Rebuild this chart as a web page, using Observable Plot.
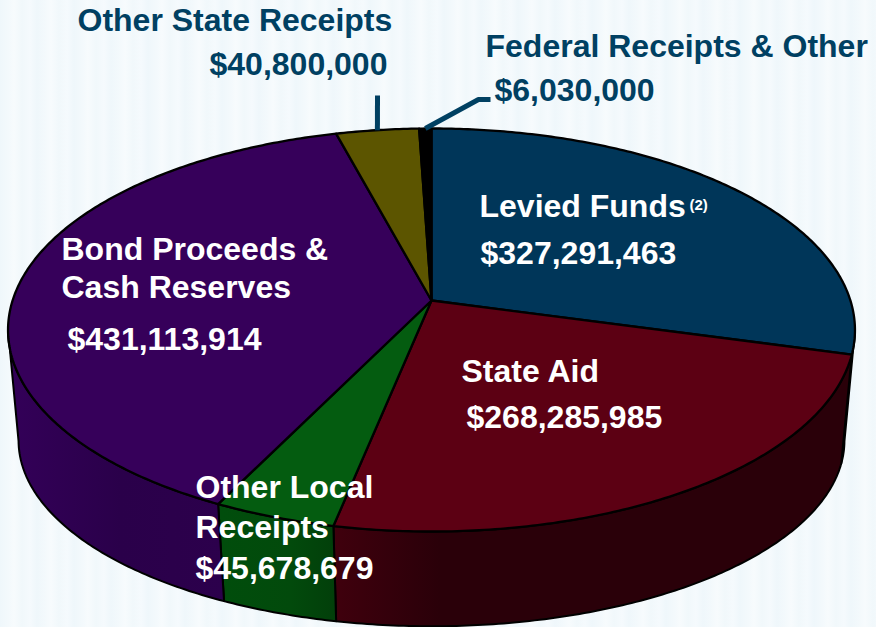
<!DOCTYPE html>
<html>
<head>
<meta charset="utf-8">
<style>
html,body{margin:0;padding:0;background:#f1f8fb;}
#chart{width:876px;height:627px;overflow:hidden;
background:repeating-linear-gradient(90deg,#eff7fb 0,#f3f9fc 8px,#f7fbfd 14px,#f1f8fb 22px,#f5fafd 30px,#eff7fb 37px);}
svg{display:block;background:transparent !important;}
</style>
<script src="https://cdn.jsdelivr.net/npm/d3@7"></script>
<script src="https://cdn.jsdelivr.net/npm/@observablehq/plot@0.6"></script>
</head>
<body>
<div id="chart"></div>
<script>
// --- Data (clockwise from the top of the pie) ---
const categories = ["Levied Funds","State Aid","Other Local Receipts","Bond Proceeds & Cash Reserves","Other State Receipts","Federal Receipts & Other"];
const amounts = [327291463,268285985,45678679,431113914,40800000,6030000];
const amountLabels = ["$327,291,463","$268,285,985","$45,678,679","$431,113,914","$40,800,000","$6,030,000"];

// --- Styles ---
const topColors = ["#003659","#5c0013","#045c10","#36005a","#5c5500","#000000"];
const wallFills = ["#00101c","url(#wallState)","url(#wallLocal)","url(#wallBond)","#333000","#000000"];
const navy = "#004062";

// --- Perspective of the pie: disc of unit radius to picture space ---
const topFace = {cx:431, cy:300, A:418.9, B:197.2, k:0.1464};
const baseFace = {cx:431, cy:413.4, A:408.7, B:182, k:0.143};
const project = (f, t) => {
  const w = 1 + f.k * Math.cos(t);
  return [f.cx + f.A * Math.sin(t) / w, f.cy - f.B * Math.cos(t) / w];
};

// Slice angles come from the amounts
const arcs = d3.pie().sort(null)(amounts);
const arcSteps = (a0, a1) => {
  const n = Math.max(2, Math.ceil((a1 - a0) * 90));
  return d3.range(n + 1).map(i => a0 + (a1 - a0) * i / n);
};

// Top face polygons
const topPoints = arcs.flatMap((a, i) => {
  const rim = arcSteps(a.startAngle, a.endAngle).map(t => project(topFace, t));
  return [[topFace.cx, topFace.cy], ...rim].map(([x, y]) => ({x, y, slice: i, fill: topColors[i]}));
});

// Wall polygons for the part of the rim facing the viewer
const rightEdge = Math.acos(-topFace.k), leftEdge = 2 * Math.PI - rightEdge;
const wallPoints = arcs.flatMap((a, i) => {
  const a0 = Math.max(a.startAngle, rightEdge), a1 = Math.min(a.endAngle, leftEdge);
  if (a1 <= a0) return [];
  const ts = arcSteps(a0, a1);
  const ring = [...ts.map(t => project(topFace, t)), ...ts.slice().reverse().map(t => project(baseFace, t))];
  return ring.map(([x, y]) => ({x, y, slice: i, fill: wallFills[i]}));
});

// Leader lines run from the middle of the slice's rim to the label
const midAngle = i => (arcs[i].startAngle + arcs[i].endAngle) / 2;
const leaderElbows = [[], [], [], [], [[377, 95]], [[478, 99], [490, 99]]];
const leaders = [4, 5].flatMap(i =>
  [project(topFace, midAngle(i)), ...leaderElbows[i]].map(([x, y]) => ({x, y, slice: i}))
);

// Label layout: text, left edge, baseline
const size = 32;
const labels = [
  {t:"Other State Receipts", x:77, y:30, c:navy},
  {t:amountLabels[4], x:209, y:74, c:navy},
  {t:"Federal Receipts & Other", x:485, y:56, c:navy},
  {t:amountLabels[5], x:494, y:100, c:navy},
  {t:"Levied Funds", x:479, y:216, c:"#fff"},
  {t:amountLabels[0], x:480, y:263, c:"#fff"},
  {t:"Bond Proceeds &", x:61, y:259, c:"#fff"},
  {t:"Cash Reserves", x:61, y:297, c:"#fff"},
  {t:amountLabels[3], x:67, y:349, c:"#fff"},
  {t:"State Aid", x:461, y:381, c:"#fff"},
  {t:amountLabels[1], x:466, y:427, c:"#fff"},
  {t:"Other Local", x:195, y:497, c:"#fff"},
  {t:"Receipts", x:195, y:537, c:"#fff"},
  {t:amountLabels[2], x:195, y:578, c:"#fff"}
];
const notes = [{t:"(2)", x:689, y:209, c:"#fff"}];

// Side-wall shading
const gradient = (id, stops) => {
  const g = document.createElementNS("http://www.w3.org/2000/svg", "linearGradient");
  g.setAttribute("id", id);
  g.setAttribute("gradientUnits", "userSpaceOnUse");
  g.setAttribute("x1", stops[0][0]); g.setAttribute("x2", stops[stops.length - 1][0]);
  g.setAttribute("y1", 0); g.setAttribute("y2", 0);
  for (const [x, c] of stops) {
    const s = document.createElementNS("http://www.w3.org/2000/svg", "stop");
    s.setAttribute("offset", (x - stops[0][0]) / (stops[stops.length - 1][0] - stops[0][0]));
    s.setAttribute("stop-color", c);
    g.appendChild(s);
  }
  return g;
};
const defsMark = () => {
  const d = document.createElementNS("http://www.w3.org/2000/svg", "defs");
  d.appendChild(gradient("wallBond", [[10,"#330058"],[120,"#2a004a"],[225,"#2c004c"]]));
  d.appendChild(gradient("wallLocal", [[223,"#014d0c"],[290,"#024a0c"],[335,"#023f0a"]]));
  d.appendChild(gradient("wallState", [[335,"#3f000d"],[440,"#2a0009"],[860,"#2a0009"]]));
  return d;
};

const stroke = "#000";
const chart = Plot.plot({
  width: 876, height: 627, margin: 0,
  x: {domain:[0,876], range:[0,876], axis:null},
  y: {domain:[0,627], range:[0,627], axis:null},
  color: {type:"identity"},
  style: {background:"transparent", fontFamily:"'Liberation Sans', Arial, sans-serif"},
  marks: [
    defsMark,
    Plot.line(wallPoints, {x:"x", y:"y", z:"slice", fill:"fill", stroke, strokeWidth:2, curve:"linear-closed"}),
    Plot.line(topPoints, {x:"x", y:"y", z:"slice", fill:"fill", stroke, strokeWidth:2.3, curve:"linear-closed", strokeLinejoin:"round"}),
    Plot.line(leaders, {x:"x", y:"y", z:"slice", stroke:navy, strokeWidth:5, strokeLinecap:"butt", strokeLinejoin:"miter"}),
    Plot.text(labels, {x:"x", y:"y", text:"t", fill:"c", fontSize:size, fontWeight:"bold", textAnchor:"start", lineAnchor:"bottom"}),
    Plot.text(notes, {x:"x", y:"y", text:"t", fill:"c", fontSize:15, fontWeight:"bold", textAnchor:"start", lineAnchor:"bottom"})
  ]
});
document.getElementById("chart").appendChild(chart);
</script>
</body>
</html>
